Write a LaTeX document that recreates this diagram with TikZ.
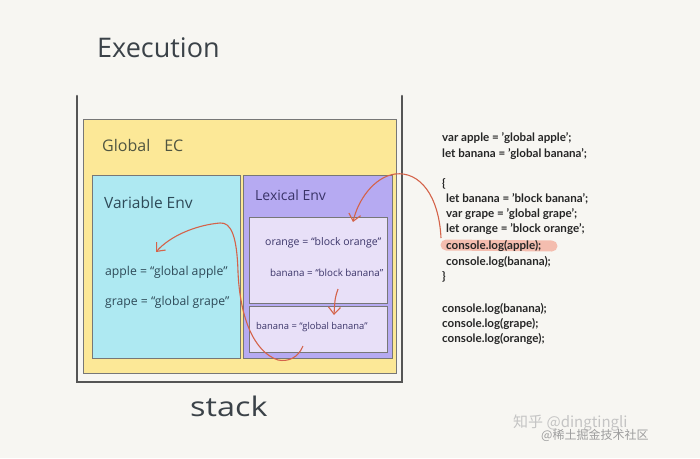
\documentclass[tikz,border=0pt]{standalone}
\usepackage{fontspec}
\setmainfont{Lato}
\newfontfamily\handfont{Open Sans}
\newfontfamily\cjkfont{Noto Sans CJK SC}
\usetikzlibrary{arrows.meta}
\definecolor{bgcol}{HTML}{F7F6F2}
\definecolor{framecol}{HTML}{555555}
\definecolor{yellowcol}{HTML}{FCE897}
\definecolor{cyancol}{HTML}{AEE9F2}
\definecolor{purplecol}{HTML}{B6AAF2}
\definecolor{innercol}{HTML}{E8E0F8}
\definecolor{redcol}{HTML}{D4634A}
\definecolor{hlcol}{HTML}{F4B4A4}
\definecolor{inkcol}{HTML}{3B4248}
\definecolor{tealink}{HTML}{2E4A58}
\definecolor{violetink}{HTML}{3A3468}
\definecolor{wmcol}{HTML}{C4C4C4}
\tikzset{
  box/.style={draw=framecol!80, line width=1pt, anchor=north west, inner sep=0pt},
  stackline/.style={draw=framecol, line width=2.6pt, line cap=round},
  hand/.style={font=\handfont\fontsize{12.2}{14}\selectfont, anchor=west, inner sep=0pt},
  codeline/.style={font=\fontsize{11.6}{13}\selectfont\bfseries, text=black!85, anchor=base west, inner sep=0pt},
  redarrow/.style={draw=redcol, line width=1.1pt, -{Straight Barb[length=7pt,width=12pt,line width=1.1pt]}},
  wm/.style={text=wmcol, inner sep=0pt}
}
\begin{document}
\begin{tikzpicture}[x=1pt,y=-1pt]
\useasboundingbox (0,0) rectangle (700,458);
\fill[bgcol] (0,0) rectangle (700,458);

% title
\node[font=\handfont\fontsize{27}{30}\selectfont, text=inkcol, anchor=west, inner sep=0pt] (title) at (97,48) {Execution};

% stack container
\draw[stackline] (77,96) -- (77,382) -- (402,382) -- (402,96);

% global EC
\node[box, fill=yellowcol, minimum width=313pt, minimum height=254pt] (gec) at (83,119) {};
\node[font=\handfont\fontsize{16}{18}\selectfont, text=inkcol!90!yellow, anchor=west, inner sep=0pt] (geclabel) at (102,145) {Global\hspace{14pt}EC};

% variable env
\node[box, fill=cyancol, minimum width=148pt, minimum height=183pt] (venv) at (92,175) {};
\node[font=\handfont\fontsize{15.5}{18}\selectfont, text=tealink, anchor=west, inner sep=0pt] (venvlabel) at (104,203) {Variable Env};
\node[hand, text=tealink] (apple) at (105,272) {apple = “global apple”};
\node[hand, text=tealink] (grape) at (105,302) {grape = “global grape”};

% lexical env
\node[box, fill=purplecol, minimum width=149pt, minimum height=183pt] (lenv) at (243,175) {};
\node[font=\handfont\fontsize{14}{16}\selectfont, text=violetink, anchor=west, inner sep=0pt] (lenvlabel) at (255,195) {Lexical Env};
\node[box, fill=innercol, minimum width=138pt, minimum height=86pt] (inner1) at (249,217) {};
\node[box, fill=innercol, minimum width=138pt, minimum height=46pt] (inner2) at (249,306) {};
\node[hand, text=violetink, font=\handfont\fontsize{10.5}{12}\selectfont] (orange) at (265,243) {orange = “block orange”};
\node[hand, text=violetink, font=\handfont\fontsize{9.8}{12}\selectfont] (bbanana) at (270,273) {banana = “block banana”};
\node[hand, text=violetink, font=\handfont\fontsize{9.4}{12}\selectfont] (gbanana) at (256,327) {banana = “global banana”};

% stack label
\node[font=\handfont\fontsize{27}{30}\selectfont, text=inkcol, anchor=west, inner sep=0pt, xscale=1.2] (stack) at (190,406) {stack};

% code highlight
\draw[hlcol, line width=11pt, line cap=round, opacity=0.85] (446,245) -- (552,246);

% code
\foreach \n/\x/\y/\t in {
  c1/442/141/{var apple = 'global apple';},
  c2/442/157/{let banana = 'global banana';},
  c3/442/187/{\{},
  c4/446/202/{let banana = 'block banana';},
  c5/446/217/{var grape = 'global grape';},
  c6/446/232/{let orange = 'block orange';},
  c7/446/249/{console.log(apple);},
  c8/446/265/{console.log(banana);},
  c9/442/280/{\}},
  c10/442/312/{console.log(banana);},
  c11/442/327/{console.log(grape);},
  c12/442/342/{console.log(orange);}}
  {\node[codeline] (\n) at (\x,\y) {\t};}

% red arrows
\coordinate (a1s) at (441,238);
\coordinate (a1e) at (353,222);
\draw[redarrow] (a1s) .. controls (439,196) and (420,171) .. (395,174)
  .. controls (374,177) and (358,200) .. (a1e);
\coordinate (a2s) at (303,346);
\coordinate (a2e) at (156,252);
\draw[redarrow] (a2s) .. controls (298,358) and (288,362) .. (278,360)
  .. controls (254,352) and (240,318) .. (238,272)
  .. controls (237,236) and (231,222) .. (220,223)
  .. controls (196,225) and (170,236) .. (a2e);
\coordinate (a3s) at (338,289);
\coordinate (a3e) at (334,315);
\draw[redarrow] (a3s) .. controls (335,298) .. (a3e);

% watermark
\node[wm, font=\cjkfont\fontsize{15}{17}\selectfont, anchor=west] (wm1) at (513,423) {知乎 @dingtingli};
\node[wm, font=\cjkfont\fontsize{12}{14}\selectfont, anchor=west, text=wmcol!80!black] (wm2) at (541,435) {@稀土掘金技术社区};
\end{tikzpicture}
\end{document}
